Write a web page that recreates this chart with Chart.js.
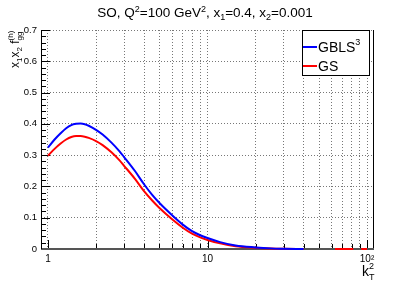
<!DOCTYPE html>
<html><head><meta charset="utf-8">
<script src="https://cdn.jsdelivr.net/npm/chart.js@4/dist/chart.umd.min.js"></script>
<style>html,body{margin:0;padding:0;background:#fff}#c{display:block}</style>
</head><body>
<div style="width:415px;height:283px"><canvas id="c" width="415" height="283"></canvas></div>
<script>
// ---- data ----
const kT2 = [1, 1.1, 1.2, 1.3, 1.4, 1.5, 1.6, 1.7, 1.8, 2, 2.2, 2.5, 2.8, 3, 3.5, 4, 4.5, 5, 6, 7, 8, 9, 10, 12, 15, 20, 25, 30, 40, 50, 63, 70, 82, 87, 92, 100];
const gbls3 = [0.324, 0.350, 0.370, 0.386, 0.396, 0.400, 0.401, 0.399, 0.394, 0.381, 0.366, 0.340, 0.313, 0.294, 0.250, 0.207, 0.173, 0.147, 0.108, 0.078, 0.057, 0.044, 0.035, 0.022, 0.011, 0.005, 0.002, 0.001, 0.0, null, null, null, null, null, null, null];
const gs = [0.298, 0.320, 0.337, 0.350, 0.358, 0.361, 0.361, 0.359, 0.355, 0.345, 0.332, 0.309, 0.284, 0.266, 0.225, 0.185, 0.155, 0.131, 0.095, 0.068, 0.049, 0.037, 0.029, 0.018, 0.009, 0.004, 0.0015, 0.0005, 0.0, null, 0.0, 0.0, 0.0, null, 0.0, 0.0];
const xGridValues = [1,2,3,4,5,6,7,8,9,10,20,30,40,50,60,70,80,90,100];
const xLabelValues = {1: '1', 10: '10', 100: '10²'};
const yTicks = [0, 0.1, 0.2, 0.3, 0.4, 0.5, 0.6, 0.7];
const seriesNames = ['GBLS', 'GS'];
const seriesColors = ['#0000ff', '#ff0000'];

const FONT = '"Liberation Sans", Arial, Helvetica, sans-serif';

function drawRich(ctx, segs, x, y) {
  let cx = x, lastStart = x;
  for (const s of segs) {
    ctx.font = s.size + 'px ' + FONT;
    const w = ctx.measureText(s.t).width;
    const px = s.stack ? lastStart : cx;
    ctx.fillText(s.t, px, y + (s.dy || 0));
    if (s.stack) cx = Math.max(cx, lastStart + w);
    else { lastStart = cx; cx += w; }
  }
  return cx - x;
}
function richWidth(ctx, segs) {
  let cx = 0, lastStart = 0;
  for (const s of segs) {
    ctx.font = s.size + 'px ' + FONT;
    const w = ctx.measureText(s.t).width;
    if (s.stack) cx = Math.max(cx, lastStart + w);
    else { lastStart = cx; cx += w; }
  }
  return cx;
}

const decorPlugin = {
  id: 'decor',
  beforeDatasetsDraw(chart) {
    const ctx = chart.ctx, a = chart.chartArea;
    const xs = chart.scales.x, ys = chart.scales.y;
    ctx.save();
    ctx.strokeStyle = '#000';
    ctx.lineWidth = 1;
    for (let i = 0; i <= 35; i++) {
      const v = i * 0.02;
      const isMaj = i % 5 === 0;
      const py = Math.round(ys.getPixelForValue(v)) + 0.5;
      ctx.beginPath(); ctx.moveTo(a.left, py); ctx.lineTo(a.left + (isMaj ? 9 : 5), py); ctx.stroke();
    }
    for (const v of xGridValues) {
      const isMaj = (v === 1 || v === 10 || v === 100);
      const px = Math.round(xs.getPixelForValue(v)) + 0.5;
      ctx.beginPath(); ctx.moveTo(px, a.bottom); ctx.lineTo(px, a.bottom - (isMaj ? 9 : 5)); ctx.stroke();
    }
    ctx.beginPath();
    ctx.moveTo(a.right + 0.5, a.top); ctx.lineTo(a.right + 0.5, a.bottom);
    ctx.stroke();
    ctx.strokeStyle = '#555'; ctx.lineWidth = 2;
    ctx.beginPath(); ctx.moveTo(a.left, a.bottom); ctx.lineTo(a.right + 1, a.bottom); ctx.stroke();
    ctx.restore();
  },
  afterDraw(chart) {
    const ctx = chart.ctx, a = chart.chartArea;
    ctx.save();
    ctx.fillStyle = '#000';
    ctx.textBaseline = 'alphabetic';
    ctx.textAlign = 'left';
    ctx.strokeStyle = '#000'; ctx.lineWidth = 1;
    ctx.beginPath(); ctx.moveTo(a.left + 0.5, a.top); ctx.lineTo(a.left + 0.5, a.bottom); ctx.stroke();
    // title
    const title = [
      {t: 'SO, Q', size: 13.5}, {t: '2', size: 9, dy: -5}, {t: '=100 GeV', size: 13.5}, {t: '2', size: 9, dy: -5},
      {t: ', x', size: 13.5}, {t: '1', size: 9, dy: 3}, {t: '=0.4, x', size: 13.5}, {t: '2', size: 9, dy: 3}, {t: '=0.001', size: 13.5}
    ];
    const tw = richWidth(ctx, title);
    drawRich(ctx, title, 205 - tw / 2, 17);
    // y axis title (rotated)
    ctx.save();
    ctx.translate(19, 68);
    ctx.rotate(-Math.PI / 2);
    drawRich(ctx, [
      {t: 'x', size: 12}, {t: '1', size: 8, dy: 3}, {t: 'x', size: 12}, {t: '2', size: 8, dy: 3},
      {t: ' f', size: 12}, {t: 'gg', size: 8, dy: 3}, {t: '(h)', size: 8, dy: -6, stack: true}
    ], 0, 0);
    ctx.restore();
    // x axis title
    drawRich(ctx, [{t: 'k', size: 14}, {t: 'T', size: 9, dy: 4}, {t: '2', size: 9, dy: -7, stack: true}], 362, 276);
    // legend
    ctx.fillStyle = '#fff';
    ctx.fillRect(302, 30, 67, 45);
    ctx.strokeStyle = '#000'; ctx.lineWidth = 1;
    ctx.strokeRect(302.5, 30.5, 67, 45);
    const rows = [47, 66];
    for (let i = 0; i < 2; i++) {
      ctx.strokeStyle = seriesColors[i]; ctx.lineWidth = 2;
      ctx.beginPath(); ctx.moveTo(303, rows[i]); ctx.lineTo(317, rows[i]); ctx.stroke();
    }
    ctx.fillStyle = '#000';
    drawRich(ctx, [{t: seriesNames[0], size: 14}, {t: '3', size: 9, dy: -7}], 318, 52);
    drawRich(ctx, [{t: seriesNames[1], size: 14}], 318, 71);
    ctx.restore();
  }
};

new Chart(document.getElementById('c'), {
  type: 'line',
  data: {
    labels: kT2,
    datasets: [
      {label: seriesNames[0], data: kT2.map((k, i) => ({x: k, y: gbls3[i]})), borderColor: seriesColors[0], borderWidth: 2, pointRadius: 0, cubicInterpolationMode: 'monotone', spanGaps: false, clip: 4},
      {label: seriesNames[1], data: kT2.map((k, i) => ({x: k, y: gs[i]})), borderColor: seriesColors[1], borderWidth: 2, pointRadius: 0, cubicInterpolationMode: 'monotone', spanGaps: false, clip: 4}
    ]
  },
  options: {
    responsive: false,
    animation: false,
    events: [],
    layout: {padding: {top: 30, right: 42, left: 0, bottom: 0}},
    plugins: {legend: {display: false}, tooltip: {enabled: false}, title: {display: false}},
    scales: {
      x: {
        type: 'logarithmic', min: 0.904, max: 109,
        afterBuildTicks: s => { s.ticks = xGridValues.map(v => ({value: v})); },
        afterFit: s => { s.height = 34; },
        ticks: {
          autoSkip: false, maxRotation: 0, padding: 4, color: '#000',
          font: {family: FONT, size: 10},
          callback: v => xLabelValues[v] !== undefined ? xLabelValues[v] : ''
        },
        grid: {color: '#777', lineWidth: 1, drawTicks: false},
        border: {display: false, dash: [1, 2]}
      },
      y: {
        type: 'linear', min: 0, max: 0.7,
        afterBuildTicks: s => { s.ticks = yTicks.map(v => ({value: v})); },
        afterFit: s => { s.width = 41; },
        ticks: {padding: 4, color: '#000', font: {family: FONT, size: 9.5}, callback: v => String(+v.toFixed(1))},
        grid: {color: '#777', lineWidth: 1, drawTicks: false},
        border: {display: false, dash: [1, 2]}
      }
    }
  },
  plugins: [decorPlugin]
});
</script>
</body></html>
